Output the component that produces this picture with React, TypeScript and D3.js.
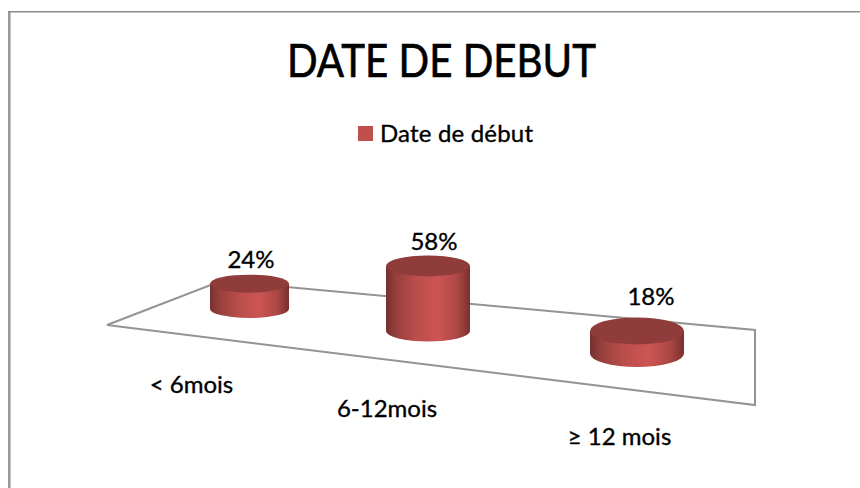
import * as d3 from 'd3'
import { useEffect, useRef } from 'react'

const categories = ['< 6mois', '6-12mois', '≥ 12 mois']
const values = [24, 58, 18]
const seriesName = 'Date de début'
const chartTitle = 'DATE DE DEBUT'

const FONT = 'Lato, "Noto Sans", sans-serif'

export default function App() {
	const svgRef = useRef<SVGSVGElement>(null)

	useEffect(() => {
		const svg = d3.select(svgRef.current)
		svg.selectAll('*').remove()

		// fake perspective: things get bigger towards the front right
		const idx = categories.map((_, i) => i)
		const cx = d3.scaleLinear().domain([0, 1, 2]).range([249.5, 428, 637])
		const rx = d3.scaleLinear().domain([0, 1, 2]).range([39.5, 42, 47])
		const ry = d3.scaleLinear().domain([0, 1, 2]).range([9, 10.5, 13.5])
		const baseY = d3.scaleLinear().domain([0, 1, 2]).range([309, 331, 353.5])
		const height = d3.scaleLinear().domain([0, 58]).range([0, 1.55])

		const labelX = d3.scaleLinear().domain([0, 1, 2]).range([251, 434, 651])
		const labelY = d3.scaleLinear().domain([0, 1, 2]).range([268, 250, 305])
		const catX = d3.scaleLinear().domain([0, 1, 2]).range([191.5, 387, 619.5])
		const catY = d3.scaleLinear().domain([0, 1, 2]).range([393, 417, 445])

		const defs = svg.append('defs')
		const grad = defs.append('linearGradient').attr('id', 'side')
		grad.append('stop').attr('offset', '0%').attr('stop-color', '#772f2e')
		grad.append('stop').attr('offset', '12%').attr('stop-color', '#96403e')
		grad.append('stop').attr('offset', '35%').attr('stop-color', '#b94d4b')
		grad.append('stop').attr('offset', '62%').attr('stop-color', '#cd5554')
		grad.append('stop').attr('offset', '85%').attr('stop-color', '#ab4745')
		grad.append('stop').attr('offset', '100%').attr('stop-color', '#7a302f')

		// outer frame, left side is a bit thicker than the top
		svg
			.append('line')
			.attr('x1', 9.3)
			.attr('x2', 9.3)
			.attr('y1', 11)
			.attr('y2', 488)
			.attr('stroke', '#979797')
			.attr('stroke-width', 2.5)
		svg
			.append('line')
			.attr('x1', 8)
			.attr('x2', 860)
			.attr('y1', 11.8)
			.attr('y2', 11.8)
			.attr('stroke', '#8c8c8c')
			.attr('stroke-width', 1.5)

		svg
			.append('text')
			.attr('x', 287)
			.attr('y', 77)
			.attr('textLength', 309)
			.attr('lengthAdjust', 'spacingAndGlyphs')
			.attr('font-family', FONT)
			.attr('font-size', 47)
			.attr('fill', '#000')
			.attr('stroke', '#000')
			.attr('stroke-width', 0.7)
			.text(chartTitle)

		// legend
		svg
			.append('rect')
			.attr('x', 358)
			.attr('y', 126)
			.attr('width', 15)
			.attr('height', 15)
			.attr('fill', '#c0504d')
		svg
			.append('text')
			.attr('x', 380)
			.attr('y', 142)
			.attr('textLength', 153)
			.attr('font-family', FONT)
			.attr('font-size', 24)
			.attr('fill', '#000')
			.attr('stroke', '#000')
			.attr('stroke-width', 0.35)
			.text(seriesName)

		// floor
		svg
			.append('path')
			.attr('d', 'M107,325L221,281L755,330V405Z')
			.attr('fill', '#fff')
			.attr('stroke', '#949494')
			.attr('stroke-width', 2)

		// cylinders
		const bars = svg
			.selectAll('g.bar')
			.data(idx)
			.join('g')
			.attr('class', 'bar')

		bars
			.append('path')
			.attr('fill', 'url(#side)')
			.attr('d', (i) => {
				const h = height(values[i]) * rx(i)
				const x0 = cx(i) - rx(i)
				const x1 = cx(i) + rx(i)
				const y = baseY(i)
				return `M${x0},${y - h}L${x0},${y}A${rx(i)},${ry(i)} 0 0 0 ${x1},${y}L${x1},${y - h}Z`
			})

		bars
			.append('ellipse')
			.attr('cx', (i) => cx(i))
			.attr('cy', (i) => baseY(i) - height(values[i]) * rx(i))
			.attr('rx', (i) => rx(i))
			.attr('ry', (i) => ry(i))
			.attr('fill', '#8f3c3b')

		bars
			.append('text')
			.attr('x', (i) => labelX(i))
			.attr('y', (i) => labelY(i))
			.attr('text-anchor', 'middle')
			.attr('font-family', FONT)
			.attr('font-size', 24)
			.attr('fill', '#000')
			.attr('stroke', '#000')
			.attr('stroke-width', 0.35)
			.text((i) => `${values[i]}%`)

		svg
			.selectAll('text.cat')
			.data(categories)
			.join('text')
			.attr('class', 'cat')
			.attr('x', (_, i) => catX(i))
			.attr('y', (_, i) => catY(i))
			.attr('text-anchor', 'middle')
			.attr('font-family', FONT)
			.attr('font-size', 24)
			.attr('fill', '#000')
			.attr('stroke', '#000')
			.attr('stroke-width', 0.35)
			.text((d) => d)
	}, [])

	return (
		<svg
			ref={svgRef}
			width={860}
			height={488}
			style={{ position: 'absolute', left: 0, top: 0, background: '#fff' }}
		/>
	)
}
